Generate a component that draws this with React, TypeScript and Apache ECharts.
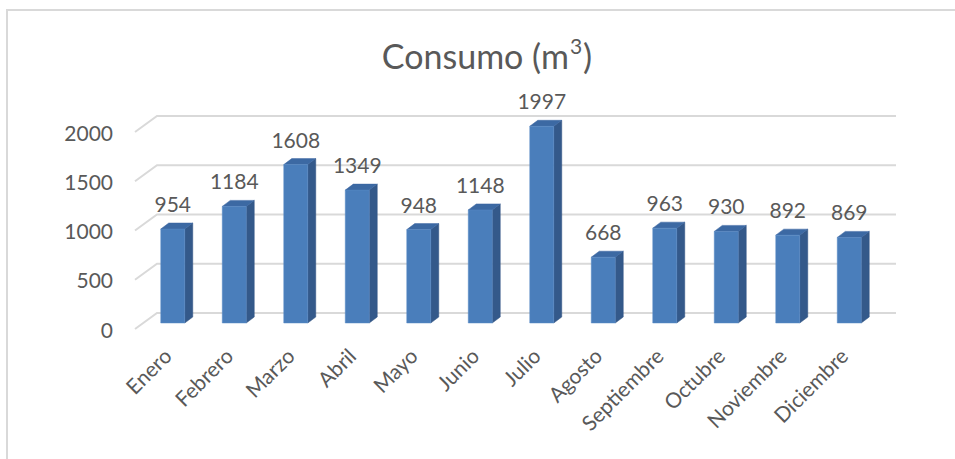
import React, { useEffect, useRef } from "react";
import * as echarts from "echarts";

const categories = ["Enero", "Febrero", "Marzo", "Abril", "Mayo", "Junio", "Julio", "Agosto", "Septiembre", "Octubre", "Noviembre", "Diciembre"];
const consumo = [954, 1184, 1608, 1349, 948, 1148, 1997, 668, 963, 930, 892, 869];
const gridValues = [0, 500, 1000, 1500, 2000];
const titleMain = "Consumo (m";
const titleSup = "3";
const titleEnd = ")";

const FONT = "Lato, 'Noto Sans', sans-serif";
const TEXT = "#595959";

export default function App() {
  const ref = useRef<HTMLDivElement>(null);
  useEffect(() => {
    if (!ref.current) return;
    const chart = echarts.init(ref.current, null, { renderer: "svg" });
    const BW = 24;
    const DX = 8;
    const DY = 6;
    const BAR_SHIFT = 6;
    chart.setOption({
      animation: false,
      backgroundColor: "#ffffff",
      title: {
        text: `{a|${titleMain}}{b|${titleSup}}{a|${titleEnd}}`,
        left: 482,
        textAlign: "center",
        top: 30,
        textStyle: {
          fontFamily: FONT,
          fontWeight: "normal",
          color: TEXT,
          rich: {
            a: { fontFamily: FONT, fontWeight: "normal", fontSize: 34, lineHeight: 40, color: TEXT },
            b: { fontFamily: FONT, fontWeight: "normal", fontSize: 21, lineHeight: 40, color: TEXT, verticalAlign: "top", padding: [0, 1, 0, 1] },
          },
        },
      },
      graphic: [
        {
          type: "rect",
          shape: { x: 7, y: 10, width: 1200, height: 1000 },
          style: { fill: "none", stroke: "#d9d9d9", lineWidth: 2 },
          silent: true,
        },
      ],
      grid: { left: 142, right: 75, top: 132, bottom: 130, containLabel: false },
      xAxis: {
        type: "category",
        data: categories,
        axisLine: { show: false },
        axisTick: { show: false },
        splitLine: { show: false },
        axisLabel: {
          interval: 0,
          rotate: 45,
          margin: 17,
          padding: [0, 8, 0, 0],
          color: TEXT,
          fontFamily: FONT,
          fontSize: 21,
        },
      },
      yAxis: {
        type: "value",
        min: 0,
        max: 2000,
        interval: 500,
        axisLine: { show: false },
        axisTick: { show: false },
        splitLine: { show: false },
        axisLabel: { margin: 29, color: TEXT, fontFamily: FONT, fontSize: 21, formatter: (v: number) => String(v) },
      },
      series: [
        {
          type: "custom",
          z: 1,
          silent: true,
          data: gridValues.map((v) => [0, v]),
          encode: { x: 0, y: 1 },
          renderItem: (params: any, api: any) => {
            const cs = params.coordSys;
            const y = api.coord([0, api.value(1)])[1];
            return {
              type: "polyline",
              shape: {
                points: [
                  [cs.x - 7, y],
                  [cs.x + 15, y - 16],
                  [cs.x + cs.width + 16, y - 16],
                ],
              },
              style: { stroke: "#d9d9d9", lineWidth: 2, fill: "none" },
            };
          },
        },
        {
          type: "custom",
          z: 2,
          data: consumo.map((v, i) => [i, v]),
          encode: { x: 0, y: 1 },
          renderItem: (params: any, api: any) => {
            const idx = api.value(0);
            const val = api.value(1);
            const base = api.coord([idx, 0]);
            const top = api.coord([idx, val]);
            const cx = base[0];
            const y0 = base[1] - BAR_SHIFT;
            const y1 = top[1] - BAR_SHIFT;
            const xl = cx - BW / 2;
            const xr = cx + BW / 2;
            return {
              type: "group",
              children: [
                {
                  type: "polygon",
                  shape: { points: [[xr, y1], [xr + DX, y1 - DY], [xr + DX, y0 - DY], [xr, y0]] },
                  style: { fill: "#34598a", stroke: "#2f5280", lineWidth: 0.5 },
                },
                {
                  type: "polygon",
                  shape: { points: [[xl, y1], [xr, y1], [xr + DX, y1 - DY], [xl + DX, y1 - DY]] },
                  style: { fill: "#3c69a3", stroke: "#3a64a0", lineWidth: 0.5 },
                },
                {
                  type: "rect",
                  shape: { x: xl, y: y1, width: BW, height: y0 - y1 },
                  style: { fill: "#4a7ebb", stroke: "#5b8cc6", lineWidth: 0.5 },
                },
                {
                  type: "text",
                  style: {
                    text: String(val),
                    x: cx,
                    y: y1 - DY - 9,
                    align: "center",
                    verticalAlign: "bottom",
                    fill: TEXT,
                    fontFamily: FONT,
                    fontSize: 21,
                  },
                },
              ],
            };
          },
        },
      ],
    });
    return () => chart.dispose();
  }, []);
  return <div ref={ref} style={{ position: "fixed", left: 0, top: 0, width: 955, height: 459 }} />;
}
